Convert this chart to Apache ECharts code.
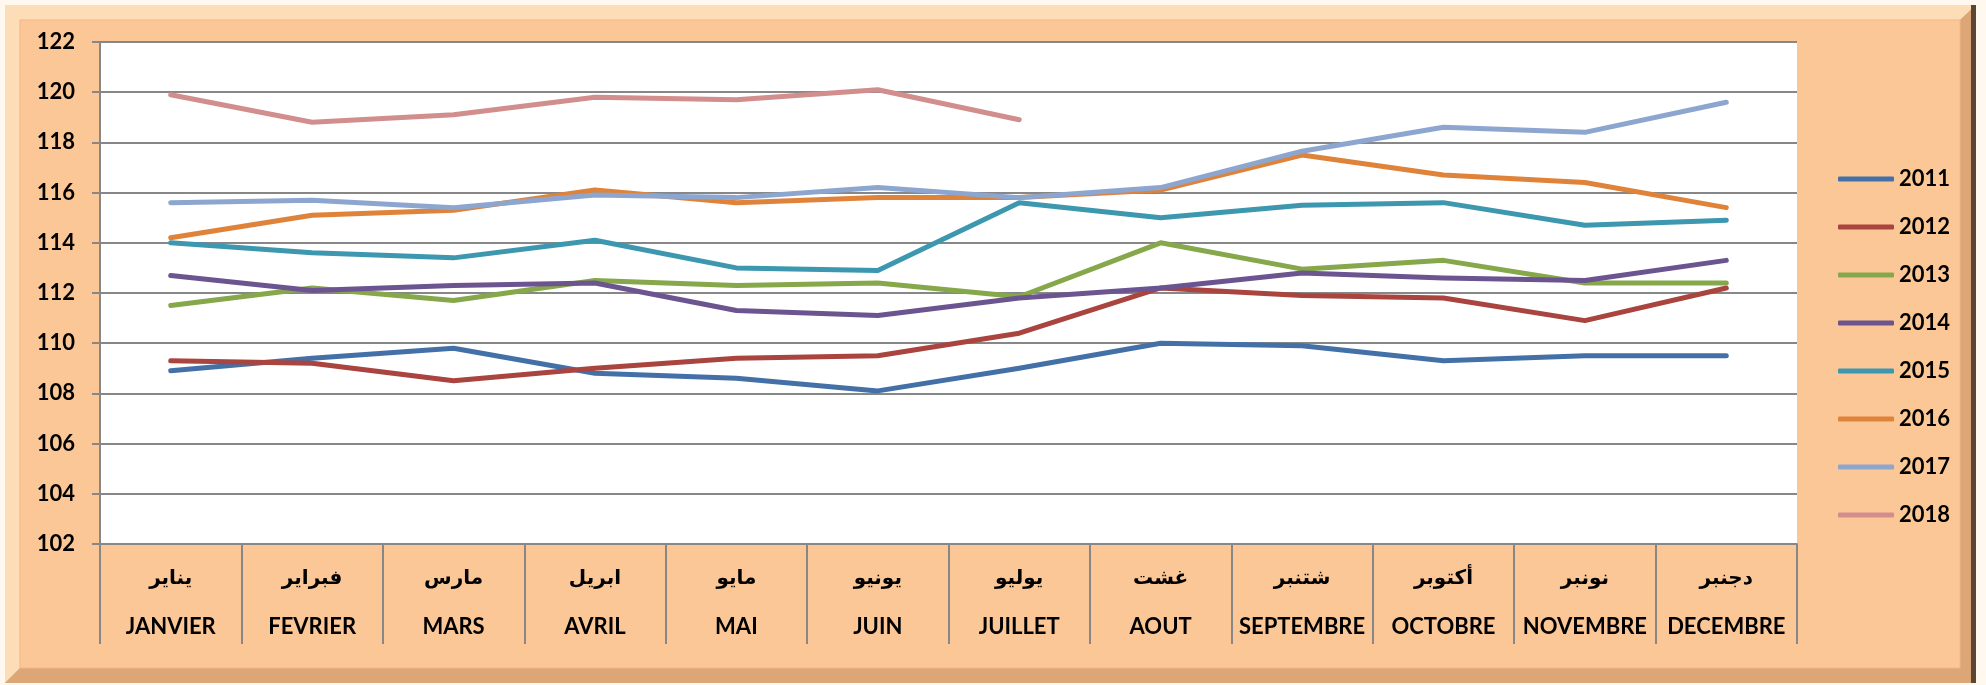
<!DOCTYPE html>
<html>
<head>
<meta charset="utf-8">
<script src="https://cdn.jsdelivr.net/npm/echarts@6/dist/echarts.min.js"></script>
<style>
html,body{margin:0;padding:0;background:#FEF8EF;}
#chart{width:1986px;height:685px;}
</style>
</head>
<body>
<div id="chart"></div>
<script>
const monthsAr = ['يناير','فبراير','مارس','ابريل','مايو','يونيو','يوليو','غشت','شتنبر','أكتوبر','نونبر','دجنبر'];
const monthsFr = ['JANVIER','FEVRIER','MARS','AVRIL','MAI','JUIN','JUILLET','AOUT','SEPTEMBRE','OCTOBRE','NOVEMBRE','DECEMBRE'];
const seriesNames = ['2011','2012','2013','2014','2015','2016','2017','2018'];
const v2011 = [108.9,109.4,109.8,108.8,108.6,108.1,109.0,110.0,109.9,109.3,109.5,109.5];
const v2012 = [109.3,109.2,108.5,109.0,109.4,109.5,110.4,112.2,111.9,111.8,110.9,112.2];
const v2013 = [111.5,112.2,111.7,112.5,112.3,112.4,111.85,114.0,112.95,113.3,112.4,112.4];
const v2014 = [112.7,112.1,112.3,112.4,111.3,111.1,111.8,112.2,112.8,112.6,112.5,113.3];
const v2015 = [114.0,113.6,113.4,114.1,113.0,112.9,115.6,115.0,115.5,115.6,114.7,114.9];
const v2016 = [114.2,115.1,115.3,116.1,115.6,115.8,115.8,116.1,117.5,116.7,116.4,115.4];
const v2017 = [115.6,115.7,115.4,115.9,115.8,116.2,115.8,116.2,117.65,118.6,118.4,119.6];
const v2018 = [119.9,118.8,119.1,119.8,119.7,120.1,118.9];
const colors = ['#4470A8','#A9443F','#86A74A','#6C5490','#3C97AF','#DF833A','#8DA6CF','#D28D8D'];
const allValues = [v2011,v2012,v2013,v2014,v2015,v2016,v2017,v2018];
const yMin = 102, yMax = 122, yStep = 2;

const chart = echarts.init(document.getElementById('chart'));
const fontLat = 'Lato, "Open Sans", sans-serif';
const gridC = '#878787';

const option = {
  backgroundColor: 'transparent',
  animation: false,
  graphic: [
    {type:'rect', shape:{x:5,y:5,width:1971,height:678}, style:{fill:'#E9B384'}, z:-10},
    {type:'polygon', shape:{points:[[5,5],[1976,5],[1960,20],[20,20],[20,668],[5,683]]}, style:{fill:'#FDDCB8'}, z:-9},
    {type:'polygon', shape:{points:[[1976,5],[1976,683],[5,683],[20,668],[1960,668],[1960,20]]}, style:{fill:'#DDA676'}, z:-9},
    {type:'rect', shape:{x:1971,y:5,width:5,height:678}, style:{fill:'#5A4632'}, z:-8},
    {type:'rect', shape:{x:20,y:20,width:1940,height:648}, style:{fill:'#FCC797', stroke:'#F0B883', lineWidth:1}, z:-7},
    {type:'rect', shape:{x:100,y:42,width:1697,height:502}, style:{fill:'#FFFFFF'}, z:-6}
  ],
  grid: {left:100, top:42, right:189, bottom:141, containLabel:false},
  legend: {
    orient:'vertical', left:1833, top:163,
    itemWidth:56, itemHeight:5, itemGap:26,
    icon:'roundRect',
    textStyle:{fontFamily:fontLat, fontWeight:'bold', fontSize:22, color:'#000', lineHeight:22},
    data: seriesNames
  },
  xAxis: {
    type:'category', boundaryGap:true,
    data: monthsFr.map((m,i)=>monthsAr[i]+'\n'+m),
    axisLine:{lineStyle:{color:gridC, width:2}},
    axisTick:{show:true, interval:0, length:100, lineStyle:{color:gridC, width:2}},
    axisLabel:{
      interval:0, margin:11,
      formatter:(v)=>{const p=v.split('\n'); return '{ar|'+p[0]+'}\n{fr|'+p[1]+'}';},
      rich:{
        ar:{fontFamily:'"DejaVu Sans", sans-serif', fontWeight:'bold', fontSize:20, lineHeight:48, color:'#000'},
        fr:{fontFamily:fontLat, fontWeight:'bold', fontSize:22, lineHeight:48, color:'#000'}
      }
    }
  },
  yAxis: {
    type:'value', min:yMin, max:yMax, interval:yStep,
    axisLine:{show:true, lineStyle:{color:gridC, width:2}},
    axisTick:{show:true, length:8, lineStyle:{color:gridC, width:2}},
    axisLabel:{margin:25, fontFamily:fontLat, fontWeight:'bold', fontSize:22, color:'#000'},
    splitLine:{show:true, lineStyle:{color:gridC, width:2}}
  },
  series: seriesNames.map((n,i)=>({
    name:n, type:'line', data:allValues[i], symbol:'none', smooth:false,
    color:colors[i],
    lineStyle:{width:5, color:colors[i], cap:'round', join:'round'}
  }))
};
chart.setOption(option);
</script>
</body>
</html>
